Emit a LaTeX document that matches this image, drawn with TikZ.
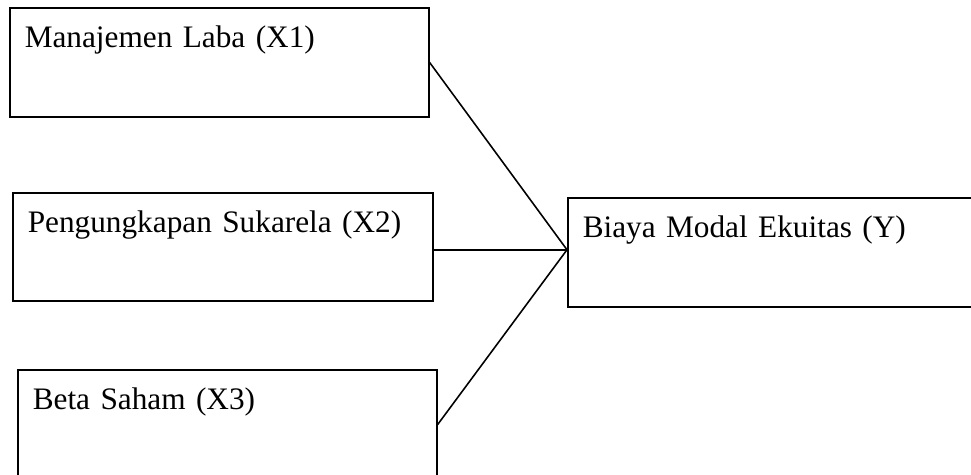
\documentclass[tikz,border=0pt]{standalone}
\usepackage{fontspec}
\setmainfont{Liberation Serif}
\usetikzlibrary{positioning}

\begin{document}
\begin{tikzpicture}[x=0.02cm, y=-0.02cm, every node/.style={font=\fontsize{17.8}{21}\selectfont},
  box/.style={draw, line width=0.9pt, anchor=north west, align=left, inner xsep=0.3cm, inner ysep=0pt, text height=0.8cm},
  link/.style={line width=0.9pt}]
  \useasboundingbox (0,0) rectangle (971,475);
  \node[box, text width=7.78cm, text depth=1.38cm] (x1) at (9,7) {Manajemen Laba (X1)};
  \node[box, text width=7.80cm, text depth=1.36cm] (x2) at (12,192) {Pengungkapan Sukarela (X2)};
  \node[box, text width=7.78cm, text depth=1.40cm] (x3) at (17,369) {Beta Saham (X3)};
  \node[box, text width=7.56cm, text depth=1.38cm] (y) at (567,197) {Biaya Modal Ekuitas (Y)};
  \coordinate (hub) at ([yshift=0.05cm]y.west);
  \draw[link] (x1.east) -- (hub); \draw[link] (x2.east |- hub) -- (hub); \draw[link] (x3.east) -- (hub);
\end{tikzpicture}
\end{document}
